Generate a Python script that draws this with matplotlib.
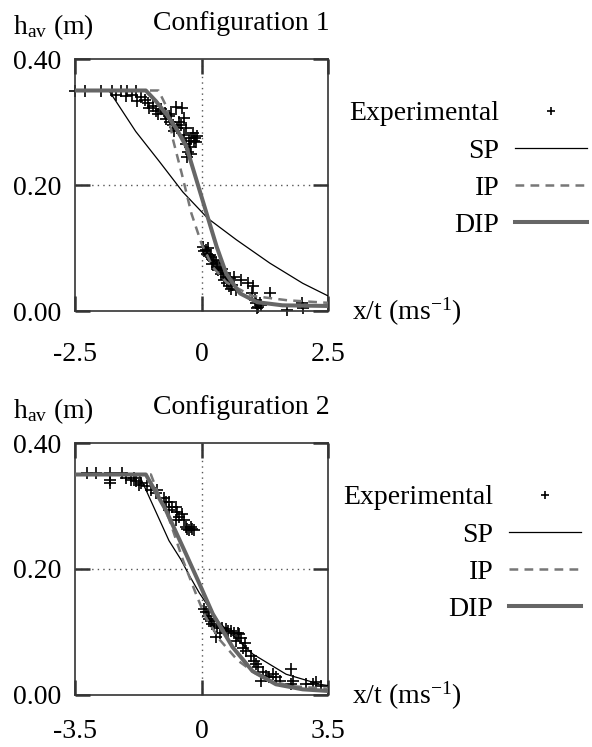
import matplotlib
matplotlib.use("Agg")
import matplotlib.pyplot as plt

plt.rcParams['font.family'] = 'Liberation Serif'
plt.rcParams['mathtext.fontset'] = 'custom'
plt.rcParams['mathtext.rm'] = 'Liberation Serif'
plt.rcParams['mathtext.it'] = 'Liberation Serif:italic'
plt.rcParams['font.size'] = 20

# ---- Configuration 1 ----
exp1_x = [-2.5, -2.3, -1.98, -1.77, -1.6, -1.47, -1.3, -1.69, -1.5, -1.38, -1.27, -1.2, -1.11,
          -1.05, -1.03, -0.95, -0.9, -0.85, -0.8, -0.73, -0.7, -0.65, -0.62, -0.6, -0.5, -0.57,
          -0.55, -0.48, -0.45, -0.4, -0.39, -0.34, -0.3, -0.35, -0.3, -0.27, -0.25, -0.2, -0.17,
          -0.15, -0.22, -0.12, -0.1, -0.08, -0.28, -0.2,
          0.03, 0.05, 0.09, 0.1, 0.12, 0.16, 0.18, 0.2, 0.22, 0.25, 0.29, 0.3, 0.33, 0.36, 0.38,
          0.4, 0.42, 0.45, 0.49, 0.5, 0.55, 0.56, 0.59, 0.6, 0.65, 0.69, 0.79, 0.92, 0.99, 1.02,
          1.05, 1.08, 1.1, 1.12, 1.15, 1.18, 1.35, 1.68, 1.98, 2.01]
exp1_y = [0.35, 0.35, 0.35, 0.35, 0.35, 0.35, 0.35, 0.343, 0.342, 0.343, 0.333, 0.34, 0.335,
          0.33, 0.322, 0.325, 0.318, 0.312, 0.32, 0.314, 0.305, 0.31, 0.30, 0.312, 0.324, 0.295,
          0.285, 0.29, 0.30, 0.295, 0.322, 0.306, 0.29, 0.28, 0.265, 0.253, 0.27, 0.275, 0.282,
          0.27, 0.26, 0.275, 0.268, 0.277, 0.245, 0.25,
          0.102, 0.095, 0.097, 0.09, 0.1, 0.089, 0.085, 0.075, 0.081, 0.08, 0.076, 0.07, 0.065,
          0.068, 0.058, 0.066, 0.06, 0.05, 0.054, 0.045, 0.04, 0.052, 0.035, 0.042, 0.054, 0.033,
          0.049, 0.044, 0.028, 0.039, 0.017, 0.012, 0.004, 0.007, 0.012, 0.0095, 0.028, 0.0016,
          0.012, 0.004]

sp1_x = [-2.5, -1.83, -1.3, -0.83, -0.37, 0.125, 0.69, 1.35, 2.0, 2.5]
sp1_y = [0.35, 0.35, 0.285, 0.237, 0.189, 0.147, 0.113, 0.076, 0.044, 0.024]

ip1_x = [-2.5, -0.85, -0.69, -0.56, -0.39, -0.2, 0.0, 0.22, 0.5, 1.0, 1.7, 2.5]
ip1_y = [0.35, 0.35, 0.324, 0.271, 0.218, 0.155, 0.107, 0.07, 0.045, 0.024, 0.017, 0.013]

dip1_x = [-2.5, -1.1, -0.9, -0.69, -0.5, -0.3, -0.1, 0.1, 0.3, 0.49, 0.76, 1.1, 1.6, 2.5]
dip1_y = [0.35, 0.35, 0.333, 0.312, 0.29, 0.261, 0.208, 0.155, 0.102, 0.059, 0.028, 0.014,
          0.009, 0.008]

# ---- Configuration 2 ----
exp2_x = [-3.17, -2.93, -2.52, -2.52, -2.52, -2.19, -2.10, -1.96, -1.87, -1.82, -1.73, -1.68,
          -1.5, -1.41, -1.27, -1.22, -1.04, -0.99, -0.90, -0.81, -0.90, -0.71, -0.67, -0.62,
          -0.71, -0.53, -0.48, -0.43, -0.39, -0.34, -0.25, -0.20, -0.29,
          0.075, 0.12, 0.17, 0.21, 0.26, 0.35, 0.44, 0.58, 0.68, 0.72, 0.82, 0.91, 1.0, 1.05,
          1.09, 0.96, 1.14, 1.19, 1.23, 1.37, 1.46, 1.51, 1.56, 1.69, 1.79, 1.88, 1.97, 2.07,
          1.65, 2.16, 2.48, 2.53, 2.48, 2.9, 3.08, 3.32, 3.18, 0.3, 0.5, 0.4]
exp2_y = [0.352, 0.352, 0.352, 0.341, 0.336, 0.352, 0.344, 0.341, 0.344, 0.339, 0.333, 0.336,
          0.331, 0.325, 0.32, 0.325, 0.312, 0.307, 0.307, 0.299, 0.294, 0.299, 0.291, 0.283,
          0.278, 0.288, 0.278, 0.267, 0.264, 0.262, 0.264, 0.262, 0.267,
          0.137, 0.131, 0.126, 0.121, 0.118, 0.11, 0.107, 0.107, 0.105, 0.102, 0.102, 0.099,
          0.099, 0.097, 0.091, 0.086, 0.075, 0.083, 0.07, 0.062, 0.054, 0.049, 0.044, 0.036,
          0.03, 0.028, 0.033, 0.028, 0.022, 0.022, 0.041, 0.022, 0.017, 0.017, 0.017, 0.014,
          0.02, 0.113, 0.098, 0.092]

sp2_x = [-3.5, -1.73, -0.9, -0.57, -0.34, -0.06, 0.49, 1.42, 2.34, 3.27, 3.5]
sp2_y = [0.35, 0.35, 0.245, 0.215, 0.19, 0.162, 0.115, 0.065, 0.033, 0.017, 0.015]

ip2_x = [-3.5, -1.40, -1.2, -0.9, -0.5, -0.15, 0.1, 0.5, 1.0, 1.5, 2.0, 2.5, 3.5]
ip2_y = [0.35, 0.35, 0.32, 0.28, 0.212, 0.16, 0.125, 0.088, 0.055, 0.034, 0.021, 0.014, 0.01]

dip2_x = [-3.5, -1.54, -0.99, -0.43, -0.06, 0.31, 0.86, 1.41, 2.06, 2.8, 3.5]
dip2_y = [0.35, 0.35, 0.294, 0.224, 0.177, 0.129, 0.076, 0.038, 0.017, 0.009, 0.0064]

W, H = 592, 747
fig = plt.figure(figsize=(W / 100, H / 100), dpi=100)


def draw(top_px, xmax, ex, ey, spx, spy, ipx, ipy, dipx, dipy, title, leg_top, leg_right,
         xpad):
    ax = fig.add_axes([75 / W, 1 - (top_px + 252) / H, 253 / W, 252 / H])
    ax.plot(ex, ey, ls='none', marker='+', ms=8, mew=1.2, color='black',
            clip_on=False, label='Experimental', zorder=2)
    ax.plot(spx, spy, color='black', lw=0.9, label='SP', zorder=3)
    ax.plot(ipx, ipy, color='#777777', lw=1.8, dashes=(3.5, 2.5), label='IP', zorder=3)
    ax.plot(dipx, dipy, color='#666666', lw=2.9, label='DIP', zorder=4)

    ax.set_xlim(-xmax, xmax)
    ax.set_ylim(0, 0.4)
    ax.set_xticks([-xmax, 0, xmax])
    ax.set_xticklabels(['-%g' % xmax, '0', '%g' % xmax])
    ax.set_yticks([0, 0.2, 0.4])
    ax.set_yticklabels(['0.00', '0.20', '0.40'])
    ax.tick_params(direction='in', top=True, right=True, length=10.5, width=1.8,
                   color='#333333')
    ax.tick_params(axis='x', pad=xpad)
    ax.tick_params(axis='y', pad=10)
    for s in ax.spines.values():
        s.set_color('#333333')
        s.set_linewidth(1.2)
    ax.axvline(0, color='#555555', lw=1, ls=(0, (1, 3)), zorder=1)
    ax.axhline(0.2, color='#555555', lw=1, ls=(0, (1, 3)), zorder=1)

    ax.text(0.31, 1.14, title, transform=ax.transAxes, ha='left', va='center')
    ax.text(-0.245, 1.10, r'h$_{\mathrm{av}}$ (m)', transform=ax.transAxes,
            ha='left', va='baseline')
    ax.text(1.095, -0.035, r'x/t (ms$^{\mathrm{-1}}$)', transform=ax.transAxes,
            ha='left', va='baseline')

    ax.legend(loc='upper right', bbox_to_anchor=(leg_right / W, 1 - leg_top / H),
              bbox_transform=fig.transFigure, frameon=False, markerfirst=False,
              handlelength=2.6, handletextpad=0.55, labelspacing=0.42, borderpad=0,
              borderaxespad=0, markerscale=0.8, fontsize=20)
    return ax


draw(59, 2.5, exp1_x, exp1_y, sp1_x, sp1_y, ip1_x, ip1_y, dip1_x, dip1_y,
     'Configuration 1', 101, 587, 22)
draw(443, 3.5, exp2_x, exp2_y, sp2_x, sp2_y, ip2_x, ip2_y, dip2_x, dip2_y,
     'Configuration 2', 485, 581, 17)

fig.savefig('out.png', dpi=100)
